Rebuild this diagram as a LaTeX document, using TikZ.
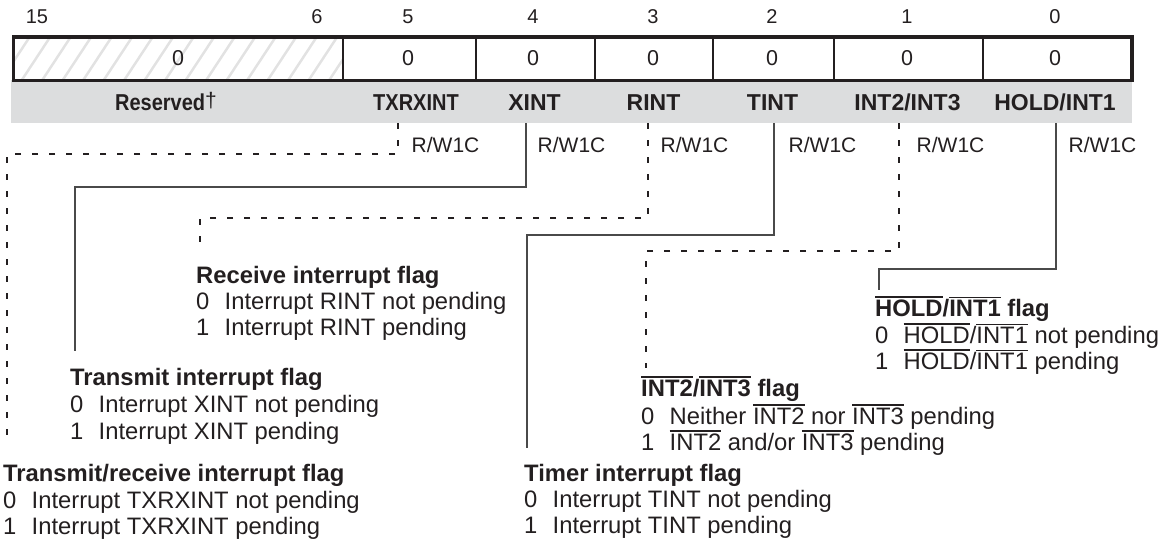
\documentclass[tikz,border=0pt]{standalone}
\usepackage{fontspec}
\setmainfont{Liberation Sans}
\newfontfamily\condfont[FakeStretch=0.87]{Liberation Sans}
\definecolor{ink}{HTML}{231F20}
\definecolor{barfill}{HTML}{DCDDDE}
\definecolor{hatchcol}{HTML}{E2E2E2}
\definecolor{wire}{HTML}{4A4A4A}
\newcommand\ovl[1]{\vbox{\hrule height 1.3pt\kern 1.8pt\hbox{#1}}}
\newcommand\nb[1]{\makebox[28.5pt][l]{#1}}
\begin{document}
\begin{tikzpicture}[x=1pt,y=-1pt,
  every node/.style={inner sep=0pt, text=ink},
  bitnum/.style={anchor=base, font=\fontsize{20}{22}\selectfont},
  cellval/.style={anchor=base, font=\fontsize{21.5}{24}\selectfont},
  fieldlbl/.style={anchor=base, font=\fontsize{23}{26}\selectfont\bfseries},
  acc/.style={anchor=base west, font=\fontsize{21}{24}\selectfont},
  ttl/.style={anchor=base west, font=\fontsize{23.8}{26}\selectfont\bfseries},
  itm/.style={anchor=base west, font=\fontsize{23.8}{26}\selectfont},
  solidwire/.style={draw=wire, line width=1.5pt},
  dashwire/.style={draw=ink, line width=1.3pt, dash pattern=on 6pt off 11pt},
  hatchline/.style={draw=hatchcol, line width=2.5pt},
  divider/.style={draw=ink, line width=1.8pt}]
\useasboundingbox (0,0) rectangle (1172,541);

% gray field-name bar
\fill[barfill] (11,80) rectangle (1132,123);

% hatching of the reserved field
\begin{scope}
  \clip (13,37) rectangle (343,80.5);
  \foreach \x in {-40,-19.5,...,360} \draw[hatchline] (\x,80.5) -- ++(29,-44);
\end{scope}

% register cells
\foreach \x in {343,476,595,713,834,983} \draw[divider] (\x,37) -- (\x,80.5);
\draw[ink, line width=3.5pt] (13.5,37) rectangle (1132,80.5);

% bit numbers
\node[bitnum] (b15) at (37,23) {15};
\node[bitnum] (b6) at (317,23) {6};
\node[bitnum] (b5) at (408,23) {5};
\node[bitnum] (b4) at (533,23) {4};
\node[bitnum] (b3) at (653,23) {3};
\node[bitnum] (b2) at (772,23) {2};
\node[bitnum] (b1) at (907,23) {1};
\node[bitnum] (b0) at (1055,23) {0};

% cell values
\node[cellval] (vR) at (178,65) {0};
\node[cellval] (v5) at (408,65) {0};
\node[cellval] (v4) at (533,65) {0};
\node[cellval] (v3) at (653,65) {0};
\node[cellval] (v2) at (772,65) {0};
\node[cellval] (v1) at (907,65) {0};
\node[cellval] (v0) at (1055,65) {0};

% field names
\node[fieldlbl] (fRes) at (166,110) {{\condfont\bfseries Reserved}\raisebox{3pt}{\mdseries\fontsize{21}{22}\selectfont †}};
\node[fieldlbl] (fTX) at (416,110) {\condfont\bfseries TXRXINT};
\node[fieldlbl] (fX) at (534.5,110) {XINT};
\node[fieldlbl] (fR) at (653.5,110) {RINT};
\node[fieldlbl] (fT) at (772.5,110) {TINT};
\node[fieldlbl] (fI) at (907.5,110) {INT2/INT3};
\node[fieldlbl] (fH) at (1055,110) {HOLD/INT1};

% access types
\node[acc] (a5) at (411.5,152) {R/W1C};
\node[acc] (a4) at (537.5,152) {R/W1C};
\node[acc] (a3) at (660.5,152) {R/W1C};
\node[acc] (a2) at (788.5,152) {R/W1C};
\node[acc] (a1) at (916.5,152) {R/W1C};
\node[acc] (a0) at (1068.5,152) {R/W1C};

% descriptions
\node[ttl] (rT) at (196,283) {Receive interrupt flag};
\node[itm] (r0) at (196,309) {\nb{0}Interrupt RINT not pending};
\node[itm] (r1) at (196,335) {\nb{1}Interrupt RINT pending};

\node[ttl] (xT) at (70,385) {Transmit interrupt flag};
\node[itm] (x0) at (70,412) {\nb{0}Interrupt XINT not pending};
\node[itm] (x1) at (70,439) {\nb{1}Interrupt XINT pending};

\node[ttl] (tT) at (3,481) {Transmit/receive interrupt flag};
\node[itm] (t0) at (3,508) {\nb{0}Interrupt TXRXINT not pending};
\node[itm] (t1) at (3,534) {\nb{1}Interrupt TXRXINT pending};

\node[ttl] (mT) at (524,481) {Timer interrupt flag};
\node[itm] (m0) at (524,507) {\nb{0}Interrupt TINT not pending};
\node[itm] (m1) at (524,533) {\nb{1}Interrupt TINT pending};

\node[ttl] (iT) at (641,396) {\ovl{INT2}/\ovl{INT3} flag};
\node[itm] (i0) at (641,424) {\nb{0}Neither \ovl{INT2} nor \ovl{INT3} pending};
\node[itm] (i1) at (641,450) {\nb{1}\ovl{INT2} and/or \ovl{INT3} pending};

\node[ttl] (hT) at (875,316) {\ovl{HOLD}/\ovl{INT1} flag};
\node[itm] (h0) at (875,343) {\nb{0}\ovl{HOLD}/\ovl{INT1} not pending};
\node[itm] (h1) at (875,369) {\nb{1}\ovl{HOLD}/\ovl{INT1} pending};

% connector coordinates
\coordinate (sTX) at (398,123); \coordinate (kTX) at (7,154);   \coordinate (eTX) at (7,440);
\coordinate (sX)  at (526,123); \coordinate (kX)  at (75,187);  \coordinate (eX)  at (75,351);
\coordinate (sR)  at (648,123); \coordinate (kR)  at (200,218); \coordinate (eR)  at (200,252);
\coordinate (sT)  at (774,123); \coordinate (kT)  at (527,235); \coordinate (eT)  at (527,448);
\coordinate (sI)  at (899,123); \coordinate (kI)  at (646,251); \coordinate (eI)  at (646,368);
\coordinate (sH)  at (1056,123);\coordinate (kH)  at (879,269); \coordinate (eH)  at (879,290);

\draw[dashwire]  (sTX) |- (kTX) -- (eTX);
\draw[solidwire] (sX)  |- (kX)  -- (eX);
\draw[dashwire]  (sR)  |- (kR)  -- (eR);
\draw[solidwire] (sT)  |- (kT)  -- (eT);
\draw[dashwire]  (sI)  |- (kI)  -- (eI);
\draw[solidwire] (sH)  |- (kH)  -- (eH);
\end{tikzpicture}
\end{document}
